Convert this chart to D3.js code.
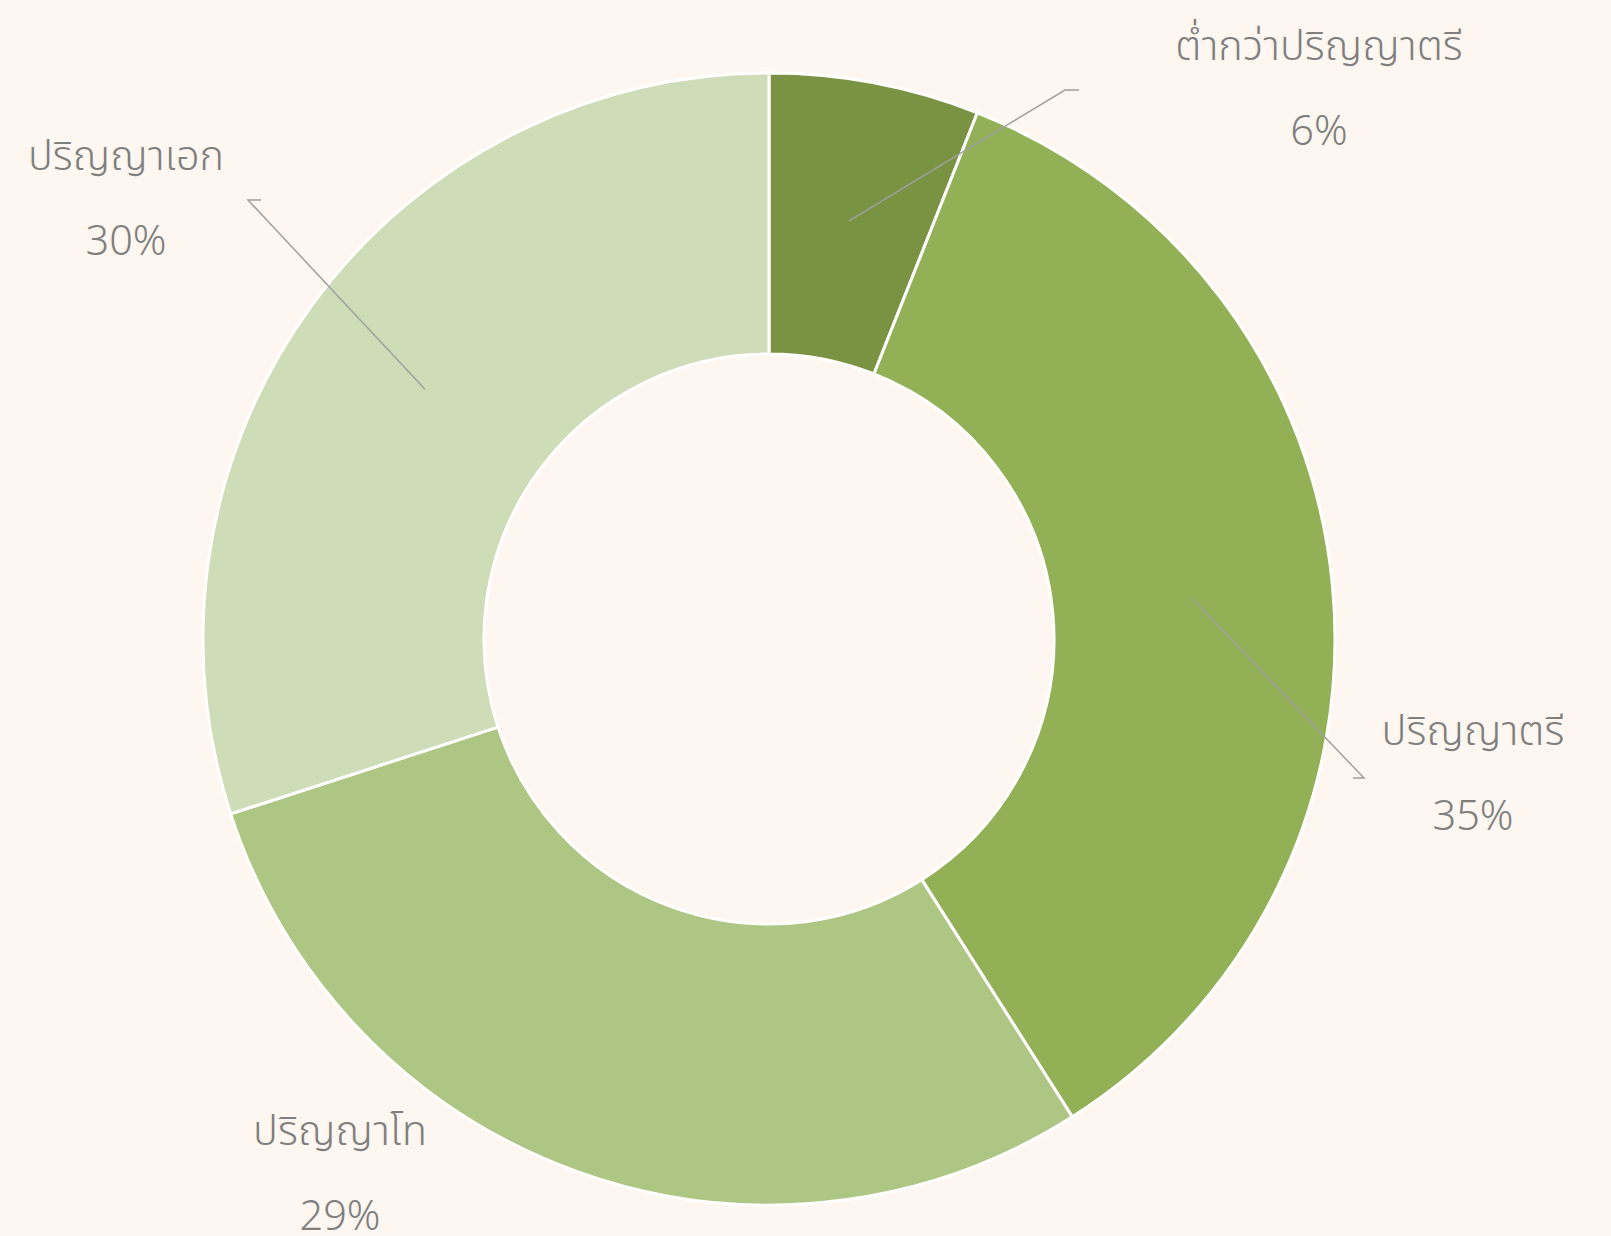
<!DOCTYPE html>
<html>
<head>
<meta charset="utf-8">
<script src="https://cdn.jsdelivr.net/npm/d3@7"></script>
<style>
    html, body { margin: 0; padding: 0; background: #fef6f0; }
    svg { display: block; }
</style>
</head>
<body>
<svg id="donut_svg" width="1611" height="1236"></svg>
<script>
// data
const categories = ['ต่ำกว่าปริญญาตรี', 'ปริญญาตรี', 'ปริญญาโท', 'ปริญญาเอก'];
const values = [6, 35, 29, 30];
const colors = ['#7a9343', '#92b055', '#adc684', '#cedcb8'];

const width = 1611;
const height = 1236;
const center = { x: 769, y: 639 };
const outerRadius = 566;
const innerRadius = 285;

/**
 * label layout relative to chart centre (text centre x, first baseline y),
 * and the elbow of the leader line (null = no leader)
 */
const labelLayout = [
    { dx: 550, dy: -579, elbow: { dx: 296, dy: -549, len: 14 } },
    { dx: 704, dy: 106, elbow: { dx: 595, dy: 139, len: -11 } },
    { dx: -429, dy: 506, elbow: null },
    { dx: -643, dy: -469, elbow: { dx: -521, dy: -439, len: 13 } },
];

const svg = d3.select('#donut_svg');
svg.append('rect').attr('width', width).attr('height', height).attr('fill', '#fef6f0');

const g = svg.append('g').attr('transform', `translate(${center.x},${center.y})`);

const pie = d3.pie().sort(null).value((d) => d);
const arcs = pie(values);

const arc = d3.arc().innerRadius(innerRadius).outerRadius(outerRadius);

g.selectAll('.slice')
    .data(arcs)
    .enter()
    .append('path')
    .attr('class', 'slice')
    .attr('d', arc)
    .attr('fill', (d, i) => colors[i])
    .attr('stroke', '#ffffff')
    .attr('stroke-width', 3)
    .attr('stroke-linejoin', 'round');

const total = d3.sum(values);

// leader lines
g.selectAll('.leader')
    .data(arcs.filter((d, i) => labelLayout[i].elbow))
    .enter()
    .append('polyline')
    .attr('class', 'leader')
    .attr('points', (d) => {
        const e = labelLayout[d.index].elbow;
        const c = arc.centroid(d);
        return [c, [e.dx, e.dy], [e.dx + e.len, e.dy]].map((p) => p.join(',')).join(' ');
    })
    .attr('fill', 'none')
    .attr('stroke', '#a0a0a0')
    .attr('stroke-width', 1.5);

// labels
const labels = g.selectAll('.label')
    .data(arcs)
    .enter()
    .append('text')
    .attr('class', 'label')
    .attr('text-anchor', 'middle')
    .attr('fill', '#7f7f7f')
    .style('font-family', '"Noto Sans Thai", "Noto Sans", sans-serif')
    .style('font-size', '41.5px')
    .style('font-weight', 300);

labels.append('tspan')
    .attr('x', (d, i) => labelLayout[i].dx)
    .attr('y', (d, i) => labelLayout[i].dy)
    .text((d, i) => categories[i]);

labels.append('tspan')
    .attr('x', (d, i) => labelLayout[i].dx)
    .attr('y', (d, i) => labelLayout[i].dy + 85)
    .text((d) => Math.round(d.value / total * 100) + '%');
</script>
</body>
</html>
